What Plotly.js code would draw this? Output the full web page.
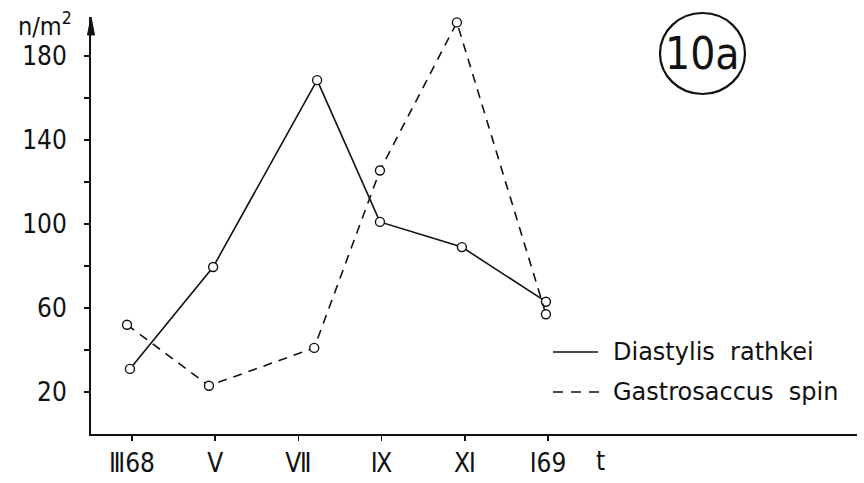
<!DOCTYPE html>
<html>
<head>
<meta charset="utf-8">
<script src="https://cdn.plot.ly/plotly-3.0.1.min.js"></script>
<style>
  html, body { margin: 0; padding: 0; background: #fff; }
  #chart { width: 864px; height: 483px; }
</style>
</head>
<body>
<div id="chart"></div>
<script>
// Sampling months (3 = March 1968, 13 = January 1969) and abundance in n/m2
const diastylisMonths = [2.95, 4.95, 7.45, 8.96, 10.93, 12.95];
const diastylisValues = [31, 79.5, 168.5, 101, 89, 63];
const gastroMonths = [2.88, 4.85, 7.38, 8.96, 10.81, 12.95];
const gastroValues = [52, 23, 41, 125.5, 196, 57];

const seriesNames = ['Diastylis  rathkei', 'Gastrosaccus  spin'];

const xTickVals = [3, 5, 7, 9, 11, 13];
const xTickText = ['Ⅲ68', 'Ⅴ', 'Ⅶ', 'Ⅸ', 'Ⅺ', 'Ⅰ69'];
const yTickVals = [20, 40, 60, 80, 100, 120, 140, 160, 180];
const yTickText = ['20', '', '60', '', '100', '', '140', '', '180'];

const FONT = 'Liberation Sans Narrow, DejaVu Sans Condensed, Arial Narrow, sans-serif';
const LEGEND_FONT = 'DejaVu Sans, sans-serif';
const INK = '#111';

const markerStyle = {
  symbol: 'circle', size: 9, color: '#fff',
  line: { color: INK, width: 1.4 }
};

const traces = [
  {
    x: diastylisMonths, y: diastylisValues, name: seriesNames[0],
    type: 'scatter', mode: 'lines+markers',
    line: { color: INK, width: 1.6 },
    marker: markerStyle, showlegend: false
  },
  {
    x: gastroMonths, y: gastroValues, name: seriesNames[1],
    type: 'scatter', mode: 'lines+markers',
    line: { color: INK, width: 1.6, dash: '9px,7px' },
    marker: markerStyle, showlegend: false
  }
];

// plot-area pixel helpers (left 91, top 17, width 766, height 417)
const L = 91, T = 17, W = 766, H = 417;
const px = v => (v - L) / W;
const py = v => (T + H - v) / H;

const shapes = [
  // arrow head on top of the y axis
  { type: 'path', xref: 'paper', yref: 'paper',
    path: `M ${px(87.5)},${py(35)} L ${px(91)},${py(17)} L ${px(94.5)},${py(35)} Z`,
    fillcolor: INK, line: { color: INK, width: 1 } },
  // circled figure label
  { type: 'circle', xref: 'paper', yref: 'paper',
    x0: px(660), x1: px(745), y0: py(94), y1: py(13),
    line: { color: INK, width: 2.2 } },
  // legend samples
  { type: 'line', xref: 'paper', yref: 'paper',
    x0: px(553), x1: px(598), y0: py(352), y1: py(352),
    line: { color: INK, width: 1.6 } },
  { type: 'line', xref: 'paper', yref: 'paper',
    x0: px(553), x1: px(600), y0: py(392), y1: py(392),
    line: { color: INK, width: 1.6, dash: '10px,8px' } }
];

const annotations = [
  { xref: 'paper', yref: 'paper', x: px(74), y: py(24), xanchor: 'right', yanchor: 'middle',
    text: 'n/m<sup>2</sup>', showarrow: false, font: { family: FONT, size: 25, color: INK } },
  { xref: 'paper', yref: 'paper', x: px(600), y: py(461), xanchor: 'center', yanchor: 'middle',
    text: 't', showarrow: false, font: { family: FONT, size: 26, color: INK } },
  { xref: 'paper', yref: 'paper', x: px(702), y: py(53), xanchor: 'center', yanchor: 'middle',
    text: '10a', showarrow: false, font: { family: FONT, size: 44, color: INK } },
  { xref: 'paper', yref: 'paper', x: px(611), y: py(352), xanchor: 'left', yanchor: 'middle',
    text: seriesNames[0], showarrow: false, font: { family: LEGEND_FONT, size: 24, color: INK } },
  { xref: 'paper', yref: 'paper', x: px(611), y: py(392), xanchor: 'left', yanchor: 'middle',
    text: seriesNames[1], showarrow: false, font: { family: LEGEND_FONT, size: 24, color: INK } }
];

const layout = {
  width: 864, height: 483,
  margin: { l: L, r: 864 - L - W, t: T, b: 483 - T - H },
  paper_bgcolor: '#fff', plot_bgcolor: '#fff',
  showlegend: false,
  font: { family: FONT, size: 26, color: INK },
  xaxis: {
    range: [3 - 41 / 41.6, 3 - 41 / 41.6 + W / 41.6],
    tickvals: xTickVals, ticktext: xTickText,
    ticks: 'outside', ticklen: 5, tickwidth: 1.5, tickcolor: INK,
    ticklabelstandoff: 0,
    showline: true, linecolor: INK, linewidth: 2,
    showgrid: false, zeroline: false,
    tickfont: { family: FONT, size: 26, color: INK }
  },
  yaxis: {
    range: [0, H / 2.1],
    tickvals: yTickVals, ticktext: yTickText,
    ticks: 'outside', ticklen: 5, tickwidth: 1.5, tickcolor: INK,
    ticklabelstandoff: 12,
    showline: true, linecolor: INK, linewidth: 2,
    showgrid: false, zeroline: false,
    tickfont: { family: FONT, size: 26, color: INK }
  },
  shapes: shapes,
  annotations: annotations
};

Plotly.newPlot('chart', traces, layout, { staticPlot: true, displayModeBar: false });
</script>
</body>
</html>
